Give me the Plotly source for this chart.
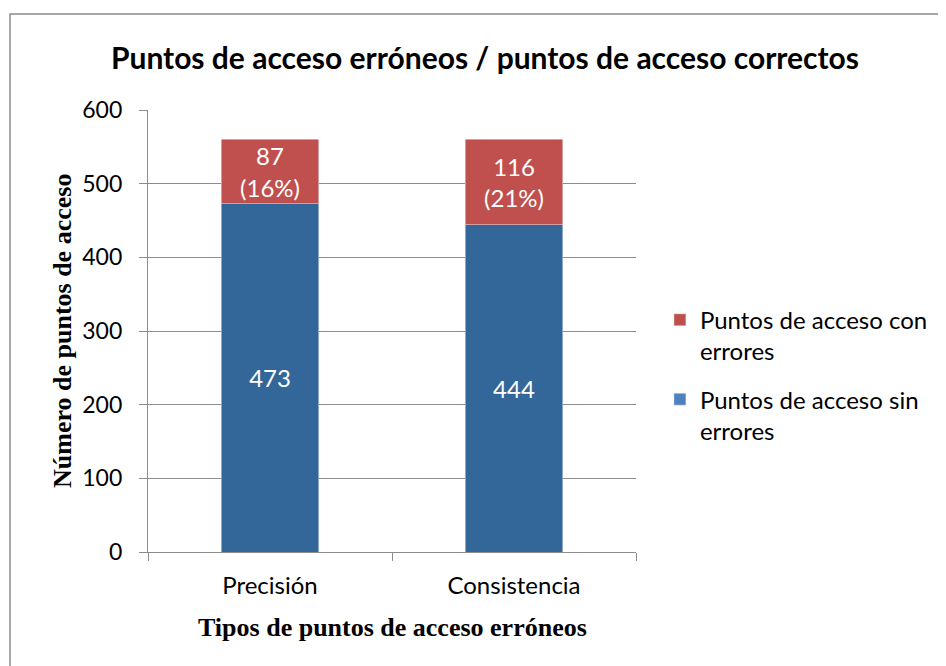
import plotly.graph_objects as go

categories = ["Precisión", "Consistencia"]
sin_errores = [473, 444]
con_errores = [87, 116]
y_ticks = [0, 100, 200, 300, 400, 500, 600]

name_err = "Puntos de acceso con<br>errores"
name_ok = "Puntos de acceso sin<br>errores"

totals = [a + b for a, b in zip(sin_errores, con_errores)]
err_text = [f"{e}<br>({round(e / t * 100)}%)" for e, t in zip(con_errores, totals)]
ok_text = [str(v) for v in sin_errores]

BAR_BLUE = "#336699"
LEG_BLUE = "#4F81BD"
RED = "#C0504D"
GRID = "#8C8C8C"
FONT = "Lato"

# page body has an 8px offset; target pixel positions of the plot area
OFF = 8
PL, PR, PT, PB = 148, 636, 110, 552
W, H = 946, 666
PW, PH = PR - PL, PB - PT

bar_common = dict(textposition="inside", insidetextanchor="middle", textangle=0,
                  constraintext="none", showlegend=False, width=0.4,
                  textfont=dict(color="white", size=24, family=FONT))

fig = go.Figure()
fig.add_trace(go.Bar(x=categories, y=sin_errores, name=name_ok, marker_color=BAR_BLUE,
                     text=ok_text, **bar_common))
fig.add_trace(go.Bar(x=categories, y=con_errores, name=name_err, marker_color=RED,
                     text=err_text, **bar_common))
# legend entries (legend swatch colour differs slightly from bar colour)
fig.add_trace(go.Bar(x=[None], y=[None], name=name_err, marker_color=RED,
                     legendgroup="err", showlegend=True))
fig.add_trace(go.Bar(x=[None], y=[None], name=name_ok, marker_color=LEG_BLUE,
                     legendgroup="ok", showlegend=True))

fig.update_layout(
    barmode="stack",
    width=W, height=H,
    margin=dict(l=PL - OFF, r=W + OFF - PR, t=PT - OFF, b=H + OFF - PB),
    paper_bgcolor="white", plot_bgcolor="white",
    font=dict(family=FONT, size=24, color="black"),
    uniformtext=dict(minsize=10, mode=False),
    title=dict(text="<b>Puntos de acceso erróneos / puntos de acceso correctos</b>",
               x=(485 - OFF) / W, xanchor="center", y=1 - (58 - OFF) / H, yanchor="middle",
               font=dict(family=FONT, size=30, color="black")),
    legend=dict(x=1.049, xanchor="left", y=0.40, yanchor="middle",
                traceorder="grouped", tracegroupgap=14, valign="top",
                font=dict(family=FONT, size=24, color="black"),
                itemwidth=30, bgcolor="rgba(0,0,0,0)"),
    xaxis=dict(showline=True, linecolor=GRID, linewidth=1.3, ticks="outside",
               tickson="boundaries", ticklen=8, tickcolor=GRID, tickwidth=1.3,
               ticklabelstandoff=12,
               showgrid=False, tickfont=dict(family=FONT, size=24, color="black")),
    yaxis=dict(range=[0, 600], tickvals=y_ticks, showline=True, linecolor=GRID,
               linewidth=1.3, ticks="outside", ticklen=8, tickcolor=GRID, tickwidth=1.3,
               ticklabelstandoff=12,
               showgrid=True, gridcolor=GRID, gridwidth=1.3, zeroline=False,
               tickfont=dict(family=FONT, size=23, color="black")),
    annotations=[
        dict(text="<b>Número de puntos de acceso</b>", xref="paper", yref="paper",
             x=(62 - PL) / PW, y=0.5, xanchor="center", yanchor="middle",
             textangle=-90, showarrow=False,
             font=dict(family="Liberation Serif", size=26, color="black")),
        dict(text="<b>Tipos de puntos de acceso erróneos</b>", xref="paper", yref="paper",
             x=0.5, y=(PB - 627) / PH, xanchor="center", yanchor="middle",
             showarrow=False,
             font=dict(family="Liberation Serif", size=26, color="black")),
    ],
    shapes=[dict(type="rect", xref="paper", yref="paper",
                 x0=(10 - PL) / PW, y0=-2, x1=3, y1=(PB - 14) / PH,
                 line=dict(color="#8C8C8C", width=1.5), fillcolor="rgba(0,0,0,0)",
                 layer="below")],
)

fig.write_html("out.html")
